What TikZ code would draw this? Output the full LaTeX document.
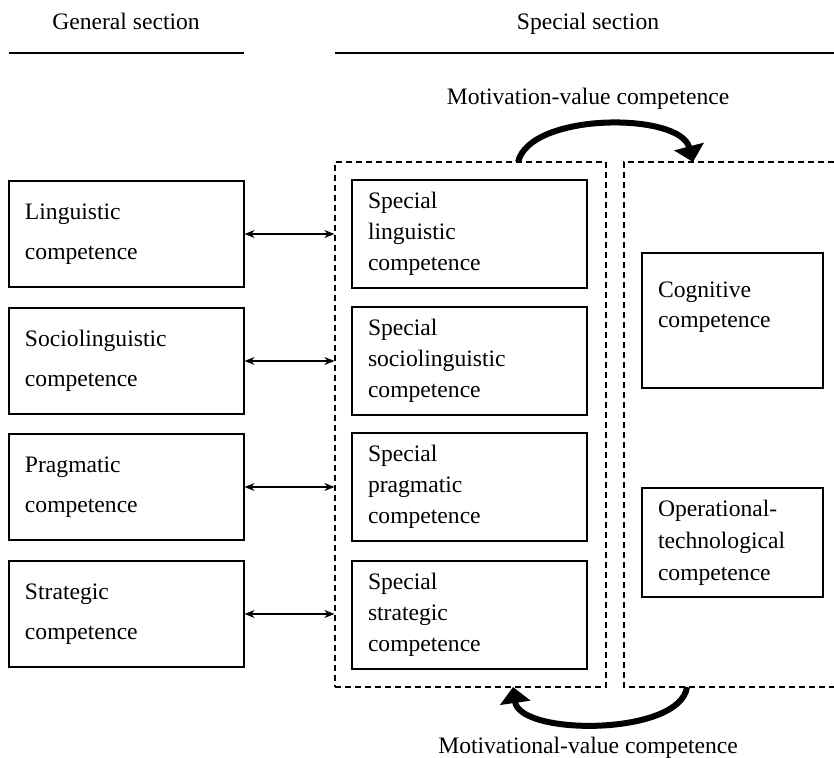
\documentclass[tikz,border=0pt]{standalone}
\usepackage{fontspec}
\setmainfont{Liberation Serif}
\usetikzlibrary{arrows.meta}
\tikzset{
  compbox/.style={draw, line width=0.6pt, inner xsep=8pt, inner ysep=0pt, align=left},
  genbox/.style={compbox, text width=101.5pt, minimum height=53pt, font=\fontsize{11.8}{20}\selectfont},
  specbox/.style={compbox, text width=101.5pt, minimum height=54pt, font=\fontsize{11.8}{15.5}\selectfont},
  rightbox/.style={compbox, text width=74.5pt, font=\fontsize{11.8}{15.5}\selectfont},
  headtext/.style={anchor=base, font=\fontsize{11.8}{14}\selectfont},
  frame/.style={dashed, dash pattern=on 3pt off 2pt, line width=0.6pt},
  linkarrow/.style={{Stealth[length=5pt,width=4pt]}-{Stealth[length=5pt,width=4pt]}, line width=0.6pt},
  bigarrow/.style={-{Triangle[width=15pt,length=8pt]}, line width=3pt}
}
\begin{document}
\begin{tikzpicture}[x=0.5pt, y=-0.5pt]
  \useasboundingbox (0,0) rectangle (834,758);
  % headings
  \node[headtext] (gentitle) at (126,30) {General section};
  \node[headtext] (spectitle) at (588,30) {Special section};
  \draw[line width=0.8pt] (9,53) -- (244,53);
  \draw[line width=0.8pt] (335,53) -- (834,53);
  % dashed frames
  \node[frame, draw, minimum width=135.5pt, minimum height=262.5pt, inner sep=0pt] (midframe) at (470.5,424.5) {};
  \draw[frame] (834,162) -| (624,687) -- (834,687);
  % general section
  \node[genbox] (ling) at (126.5,234) {Linguistic\\competence};
  \node[genbox] (socio) at (126.5,361) {Sociolinguistic\\competence};
  \node[genbox] (prag) at (126.5,487) {Pragmatic\\competence};
  \node[genbox] (strat) at (126.5,614) {Strategic\\competence};
  % special section
  \node[specbox] (sling) at (469.5,234) {Special\\linguistic\\competence};
  \node[specbox] (ssocio) at (469.5,361) {Special\\sociolinguistic\\competence};
  \node[specbox] (sprag) at (469.5,487) {Special\\pragmatic\\competence};
  \node[specbox] (sstrat) at (469.5,615) {Special\\strategic\\competence};
  \node[rightbox, minimum height=67.5pt, text depth=31pt, font=\fontsize{11.8}{15}\selectfont] (cogn) at (732.5,320.5) {Cognitive\\competence};
  \node[rightbox, minimum height=54.5pt, font=\fontsize{11.8}{16}\selectfont] (oper) at (732.5,542.5) {Operational-\\technological\\competence};
  % links
  \foreach \n in {ling,socio,prag,strat}
    \draw[linkarrow] (\n.east) -- (\n.east -| midframe.west);
  % motivation arrows
  \coordinate (topA) at (518,162);
  \coordinate (topB) at (693,162);
  \coordinate (botA) at (687,687);
  \coordinate (botB) at (513,687);
  \draw[bigarrow] (topA) .. controls (530,112) and (680,112) .. (topB);
  \draw[bigarrow] (botA) .. controls (680,736) and (520,736) .. (botB);
  \node[headtext] (mottop) at (588,105) {Motivation-value competence};
  \node[headtext] (motbot) at (588,753) {Motivational-value competence};
\end{tikzpicture}
\end{document}
